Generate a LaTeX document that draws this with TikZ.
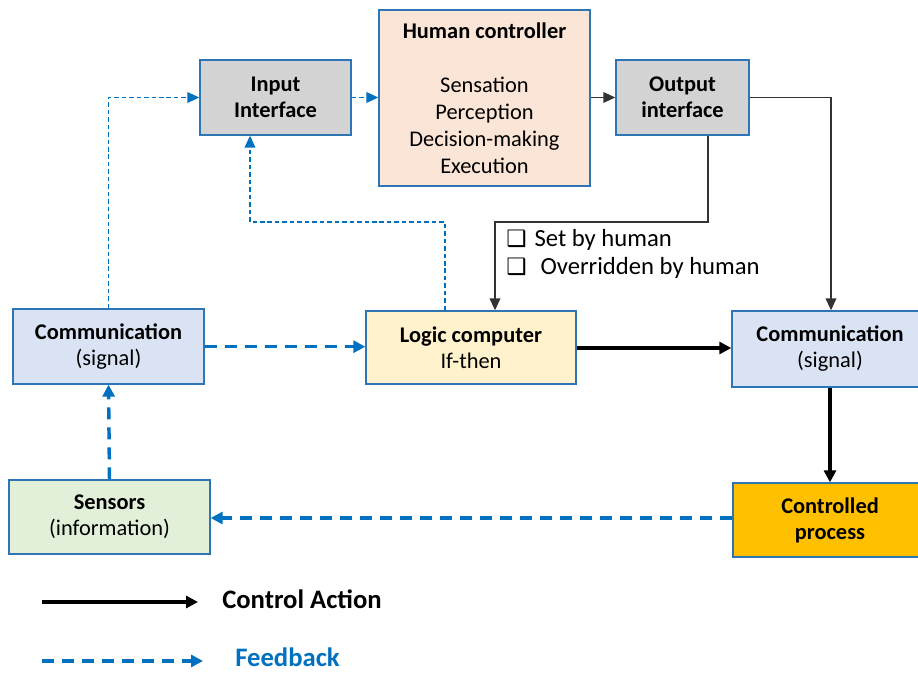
\documentclass[tikz,border=0pt]{standalone}
\usepackage{fontspec}
\setmainfont{Carlito}
\newfontfamily\symfont{DejaVu Sans}
\usetikzlibrary{arrows.meta}

\definecolor{edgeblue}{HTML}{2E75B6}
\definecolor{fbblue}{HTML}{0070C0}
\definecolor{ifgray}{HTML}{D3D3D3}
\definecolor{humanfill}{HTML}{FBE5D6}
\definecolor{commfill}{HTML}{DAE3F3}
\definecolor{logicfill}{HTML}{FFF2CC}
\definecolor{sensfill}{HTML}{E2F0D9}
\definecolor{procfill}{HTML}{FFC000}

% shadowed check box used in the option list
\newcommand{\optbox}{{\symfont\fontsize{17}{20}\selectfont ❑}}

\tikzset{
  box/.style={draw=edgeblue, line width=1pt, inner sep=0pt, align=center,
    font=\fontsize{16.8}{19.5}\selectfont},
  ctrlthin/.style={draw=black!80, line width=1.1pt, -{Triangle[length=9pt,width=8pt]}},
  ctrlthick/.style={draw=black, line width=2.6pt, -{Triangle[length=9pt,width=9pt]}},
  fbthin/.style={draw=fbblue, line width=1.1pt, dash pattern=on 3.4pt off 2.2pt,
    -{Triangle[length=9pt,width=8pt]}},
  fbthick/.style={draw=fbblue, line width=2.6pt, dash pattern=on 9pt off 6pt,
    -{Triangle[length=9pt,width=9pt]}},
  lbl/.style={inner sep=0pt, font=\fontsize{18.5}{21}\selectfont},
}

\begin{document}
\begin{tikzpicture}[x=0.75pt,y=-0.75pt]
\useasboundingbox (0,0) rectangle (918,673);

% blocks
\node[box, fill=ifgray, minimum width=113.25pt, minimum height=56.25pt]
  (input) at (275.5,97.5) {\textbf{Input}\\\textbf{Interface}};
\node[box, fill=humanfill, minimum width=158.25pt, minimum height=132pt,
  font=\fontsize{16.8}{20.25}\selectfont]
  (human) at (484.5,98) {\textbf{Human controller}\\[20.25pt]Sensation\\Perception\\Decision-making\\Execution};
\node[box, fill=ifgray, minimum width=99.75pt, minimum height=56.25pt]
  (output) at (682.5,97.5) {\textbf{Output}\\\textbf{interface}};
\node[box, fill=commfill, minimum width=143.25pt, minimum height=56.25pt]
  (commL) at (108.5,346.5) {\textbf{Communication}\\(signal)};
\node[box, fill=logicfill, minimum width=157.5pt, minimum height=54.75pt]
  (logic) at (471,347.5) {\textbf{Logic computer}\\If-then};
\node[box, fill=commfill, minimum width=147pt, minimum height=57pt]
  (commR) at (830,349) {\textbf{Communication}\\(signal)};
\node[box, fill=sensfill, minimum width=150.75pt, minimum height=55.5pt]
  (sensors) at (109.5,517) {\textbf{Sensors}\\(information)};
\node[box, fill=procfill, minimum width=145.5pt, minimum height=55.5pt]
  (process) at (830,520) {\textbf{Controlled}\\\textbf{process}};

% bend points of the routed connectors
\coordinate (logicup) at (445,222);
\coordinate (inputdown) at (250,222);
\coordinate (outdown) at (708,222);
\coordinate (logicin) at (495,222);
\coordinate (outright) at (831,97.5);

% feedback path to the input interface (thin dotted)
\draw[fbthin] (commL.north) |- (input.west);
\draw[fbthin] (input.east) -- (human.west |- input.east);
\draw[fbthin] (logic.north -| logicup) -- (logicup) -- (inputdown) -- (input.south -| inputdown);

% human output (thin solid)
\draw[ctrlthin] (human.east |- output.west) -- (output.west);
\draw[ctrlthin] (output.east) -- (outright) -- (commR.north -| outright);
\draw[ctrlthin] (output.south -| outdown) -- (outdown) -- (logicin) -- (logic.north -| logicin);

% main loop
\draw[fbthick] (commL.east |- 0,346.7) -- (logic.west |- 0,346.7);
\draw[ctrlthick] (logic.east |- 0,348) -- (commR.west |- 0,348);
\draw[ctrlthick] (commR.south) -- (process.north);
\draw[fbthick] (process.west |- 0,518) -- (sensors.east |- 0,518);
\draw[fbthick] (sensors.north) -- (commL.south);

% option list beside the override line
\node[lbl, anchor=west] (setby) at (506,240) {\optbox\hspace{6pt}Set by human};
\node[lbl, anchor=west] (override) at (506,268) {\optbox\hspace{10.5pt}Overridden by human};

% legend
\coordinate (ca0) at (42,602);
\coordinate (ca1) at (198,602);
\coordinate (fb0) at (42,661);
\coordinate (fb1) at (203,661);
\draw[ctrlthick] (ca0) -- (ca1);
\draw[fbthick] (fb0) -- (fb1);
\node[inner sep=0pt, anchor=base west, font=\fontsize{20}{24}\selectfont\bfseries]
  (calabel) at (222,608) {Control Action};
\node[inner sep=0pt, anchor=base west, text=fbblue, font=\fontsize{20}{24}\selectfont\bfseries]
  (fblabel) at (235,666) {Feedback};
\end{tikzpicture}
\end{document}
